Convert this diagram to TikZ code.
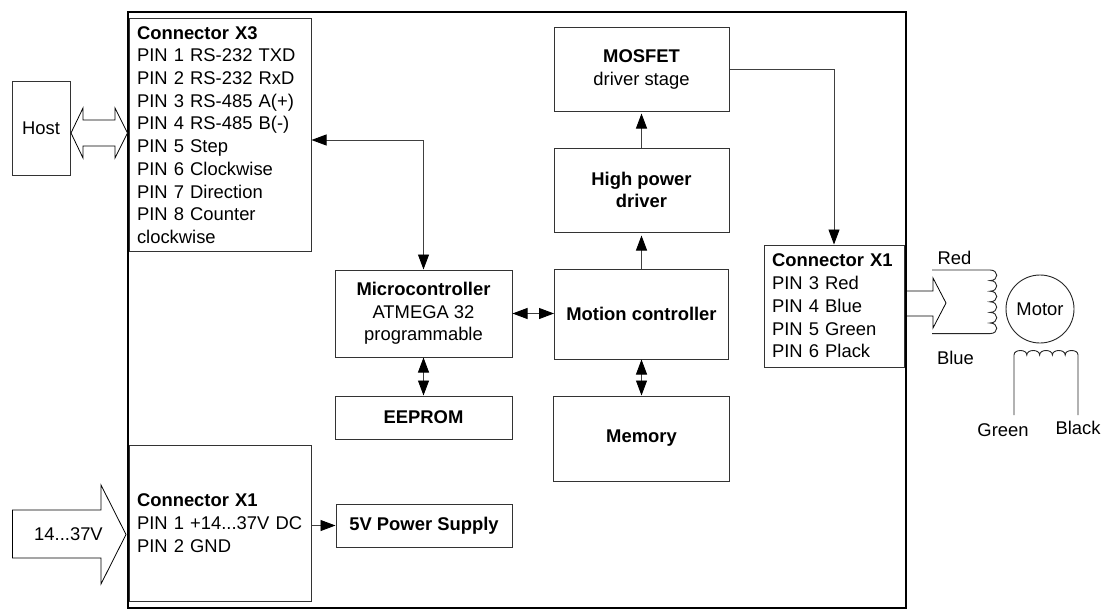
\documentclass[tikz,border=0pt]{standalone}
\usepackage{fontspec}
\setmainfont{Liberation Sans}
\usetikzlibrary{arrows.meta,calc}
\tikzset{
  base/.style={font=\fontsize{18.4}{22.7}\selectfont},
  box/.style={base,draw=black!80,line width=1pt,fill=white,align=center,inner sep=0pt,rectangle},
  lbox/.style={box,align=left},
  lbl/.style={base,inner sep=0pt},
  conn/.style={draw=black!75,line width=0.9pt},
  one/.style={conn,-{Triangle[length=15pt,width=11pt,fill=black,color=black]}},
  two/.style={conn,{Triangle[length=15pt,width=11pt,fill=black,color=black]}-{Triangle[length=15pt,width=11pt,fill=black,color=black]}},
  block/.style={draw=black,line width=0.8pt,fill=white,line join=miter},
  wire/.style={draw=black!85,line width=0.9pt}
}
\begin{document}
\begin{tikzpicture}[x=1pt,y=-1pt]
\useasboundingbox (0,0) rectangle (1105,610);
\fill[white] (0,0) rectangle (1105,610);
\draw[line width=2pt] (128,12) rectangle (906,607.5);

\node[lbox,minimum width=182,minimum height=232,text width=166] (x3) at (220,135) {\textbf{Connector X3}\\PIN 1 RS-232 TXD\\PIN 2 RS-232 RxD\\PIN 3 RS-485 A(+)\\PIN 4 RS-485 B(-)\\PIN 5 Step\\PIN 6 Clockwise\\PIN 7 Direction\\PIN 8 Counter\\clockwise};
\node[box,minimum width=58,minimum height=94] (host) at (41,128) {Host};
\node[box,minimum width=177,minimum height=87] (micro) at (423.5,313.5) {\textbf{Microcontroller}\\ATMEGA 32\\programmable};
\node[box,minimum width=177,minimum height=43] (eeprom) at (423.5,417.5) {\textbf{EEPROM}};
\node[box,minimum width=174,minimum height=90] (motion) at (641.5,314) {\textbf{Motion controller}};
\node[box,minimum width=176,minimum height=85] (memory) at (641.5,438.5) {\textbf{Memory}};
\node[box,minimum width=175,minimum height=84] (high) at (641.5,190) {\textbf{High power}\\\textbf{driver}};
\node[box,minimum width=175,minimum height=83] (mosfet) at (641.5,69.5) {\textbf{MOSFET}\\driver stage};
\node[lbox,minimum width=140,minimum height=122,text width=124] (x1r) at (834,306) {\textbf{Connector X1}\\PIN 3 Red\\PIN 4 Blue\\PIN 5 Green\\PIN 6 Plack};
\node[lbox,minimum width=182,minimum height=156,text width=166] (x1l) at (220,523) {\textbf{Connector X1}\\PIN 1 +14...37V DC\\PIN 2 GND};
\node[box,minimum width=176,minimum height=43] (psu) at (424,525.5) {\textbf{5V Power Supply}};

\coordinate (x3p) at ($(x3.east)+(0,5)$);
\coordinate (x1lp) at (x1l.east |- psu.west);
\draw[two] (micro.north) |- (x3p);
\draw[two] (micro.east) -- (micro.east -| motion.west);
\draw[two] (micro.south) -- (eeprom.north);
\draw[two] (motion.south) -- (memory.north);
\draw[one,shorten >=3pt] (motion.north) -- (high.south);
\draw[one,shorten >=2pt] (high.north) -- (mosfet.south);
\draw[one] (mosfet.east) -| (x1r.north);
\draw[one] (x1lp) -- (psu.west);

% block arrows
\draw[block] (71,133) -- (83,108) -- (83,120) -- (115,120) -- (115,108) -- (127.5,133) -- (115,158) -- (115,146) -- (83,146) -- (83,158) -- cycle;
\draw[block] (12.5,510) -- (101,510) -- (101,485) -- (126,534.5) -- (101,584) -- (101,558) -- (12.5,558) -- cycle;
\node[lbl] at (68.5,534) {14...37V};
\draw[block] (907,291) -- (933,291) -- (933,278) -- (946,303) -- (933,328) -- (933,316) -- (907,316);

% motor
\node[lbl] at (954.5,258) {Red};
\node[lbl] at (955.5,358) {Blue};
\node[lbl] at (1003,430) {Green};
\node[lbl] at (1078,428) {Black};
\draw[wire] (1040,309) circle (34);
\node[lbl] at (1040,309) {Motor};
\draw[wire] (932,270) -- (990,270)
  \foreach \i in {1,...,6} { .. controls +(9,0) and +(9,0) .. ++(0,10.6) } -- (932,333.6);
\draw[wire] (1014,415) -- (1014,355)
  \foreach \i in {1,...,5} { .. controls +(0,-6) and +(0,-6) .. ++(12.8,0) } -- (1078,415);
\end{tikzpicture}
\end{document}
